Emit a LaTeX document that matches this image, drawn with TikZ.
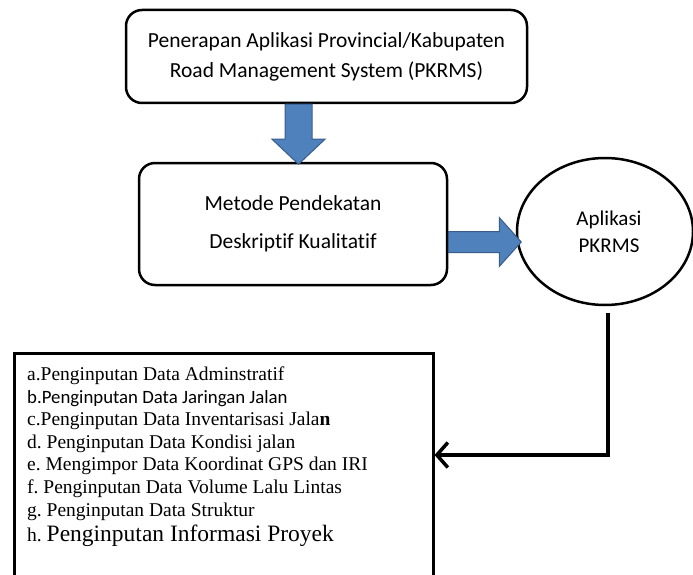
\documentclass[tikz,border=0pt]{standalone}
\usepackage{fontspec}
\setmainfont{Liberation Serif}
\newfontfamily\calibri[Ligatures=NoCommon]{Carlito}
\usetikzlibrary{arrows.meta, positioning, shapes.geometric, calc}

\definecolor{arrowblue}{HTML}{4F81BD}
\definecolor{arrowedge}{HTML}{385D8A}

\begin{document}
\begin{tikzpicture}[x=1pt, y=-1pt,
    flowbox/.style={draw, line width=2.5pt, rounded corners=16pt, align=center, font=\calibri\fontsize{21.5}{30}\selectfont},
    blockarrow/.style={fill=arrowblue, draw=arrowedge, line width=1pt},
    conn/.style={line width=3.5pt, -{Straight Barb[length=11pt, width=25pt]}}]
        % Alur penerapan PKRMS
        \useasboundingbox (0,0) rectangle (693,575);
        \node[flowbox, minimum width=401pt, minimum height=93pt] (penerapan) at (326.5,56.5) {Penerapan Aplikasi Provincial/Kabupaten\\Road Management System (PKRMS)};
        \node[flowbox, minimum width=308pt, minimum height=122pt, font=\calibri\fontsize{21.5}{38}\selectfont] (metode) at (293,224) {Metode Pendekatan\\Deskriptif Kualitatif};
        \node[draw, ellipse, line width=2.5pt, minimum width=176pt, minimum height=147pt, align=center, font=\calibri\fontsize{21}{27}\selectfont] (aplikasi) at (605,231.5) {\hspace*{8pt}Aplikasi\\\hspace*{8pt}PKRMS};
        \node[draw, rectangle, line width=2.5pt, minimum width=419pt, minimum height=250pt, inner sep=0pt, anchor=north west] (daftar) at (13,352) {};
        \node[anchor=north west, inner sep=0pt, align=left, font=\fontsize{19.5}{22.6}\selectfont] (isian) at (27,366.5) {a.Penginputan Data Adminstratif\\
            {\calibri\fontsize{18.8}{22}\selectfont b.Penginputan Data Jaringan Jalan}\\
            c.Penginputan Data Inventarisasi Jala{\bfseries n}\\
            d.\ Penginputan Data Kondisi jalan\\
            e.\ Mengimpor Data Koordinat GPS dan IRI\\
            f.\ Penginputan Data Volume Lalu Lintas\\
            g.\ Penginputan Data Struktur\\[3pt]
            h.\ {\fontsize{23.5}{22}\selectfont Penginputan Informasi Proyek}};

        \filldraw[blockarrow] ([xshift=-41.5pt]penerapan.south) -- ++(27,0) -- ++(0,35) -- ++(13,0) -- ++(-26.5,25) -- ++(-26.5,-25) -- ++(13,0) -- cycle;
        \filldraw[blockarrow] ([yshift=-7.5pt]metode.east) -- ++(51,0) -- ++(0,-14) -- ++(22,24.5) -- ++(-22,24.5) -- ++(0,-14) -- ++(-51,0) -- cycle;
        \draw[conn] ([shift={(3,7)}]aplikasi.south) |- (daftar.east |- 0,455);
    \end{tikzpicture}
\end{document}
